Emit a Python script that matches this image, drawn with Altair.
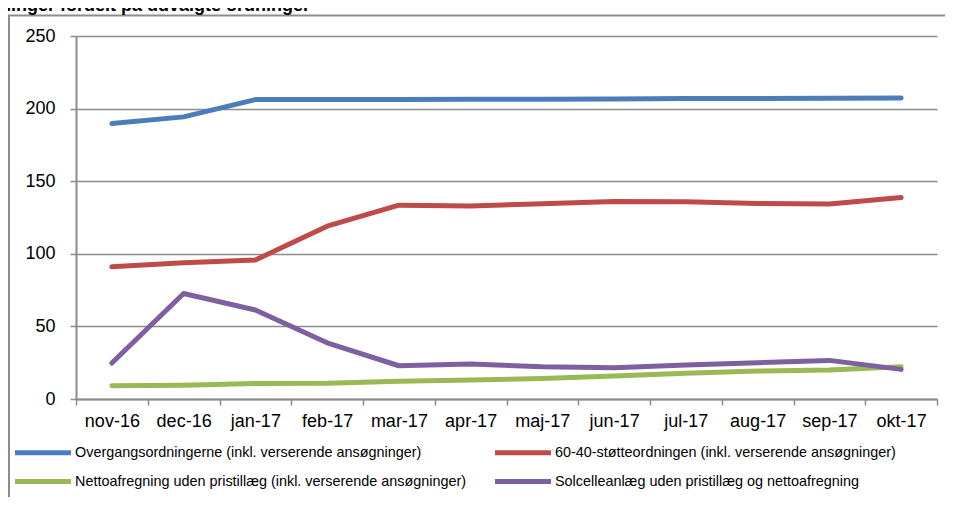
import altair as alt
import pandas as pd

title_text = "ninger fordelt på udvalgte ordninger"
months = ["nov-16", "dec-16", "jan-17", "feb-17", "mar-17", "apr-17",
          "maj-17", "jun-17", "jul-17", "aug-17", "sep-17", "okt-17"]
series = [
    "Overgangsordningerne (inkl. verserende ansøgninger)",
    "60-40-støtteordningen (inkl. verserende ansøgninger)",
    "Nettoafregning uden pristillæg (inkl. verserende ansøgninger)",
    "Solcelleanlæg uden pristillæg og nettoafregning",
]
colors = ["#4A7EBB", "#BE4B48", "#98B954", "#7D60A0"]

overgang = [189.7, 194.3, 206.2, 206.2, 206.3, 206.4, 206.5, 206.6, 206.9, 207.0, 207.2, 207.3]
stoette = [91.0, 93.8, 95.7, 119.0, 133.5, 133.0, 134.5, 136.0, 135.8, 134.7, 134.3, 138.8]
netto = [9.2, 9.4, 10.6, 10.8, 12.3, 13.0, 14.2, 15.8, 17.7, 19.3, 20.0, 22.2]
solcelle = [24.8, 72.7, 61.3, 38.7, 22.9, 24.1, 22.2, 21.5, 23.4, 25.0, 26.6, 20.4]
y_ticks = [0, 50, 100, 150, 200, 250]

rows = []
for name, vals in zip(series, [overgang, stoette, netto, solcelle]):
    for m, v in zip(months, vals):
        rows.append({"month": m, "value": v, "series": name, "order": series.index(name)})
df = pd.DataFrame(rows)

W, H = 861, 363
FONT = "Liberation Sans"
GRAY = "#8c8c8c"

lines = alt.Chart(df).mark_line(strokeWidth=5, strokeCap="round", strokeJoin="round").encode(
    x=alt.X("month:O", sort=months, bandPosition=0.5,
            scale=alt.Scale(type="band", paddingInner=0, paddingOuter=0),
            axis=alt.Axis(title=None, labelAngle=0, tickBand="extent", grid=False,
                          labelFontSize=18, labelPadding=7, tickSize=6)),
    y=alt.Y("value:Q", scale=alt.Scale(domain=[0, 250], nice=False),
            axis=alt.Axis(title=None, values=y_ticks, labelFontSize=18,
                          labelPadding=15, tickSize=6, grid=True)),
    color=alt.Color("series:N", sort=series,
                    scale=alt.Scale(domain=series, range=colors),
                    legend=alt.Legend(title=None, orient="none", legendX=-49.5, legendY=400,
                                      direction="horizontal",
                                      columns=2, columnPadding=18, rowPadding=2,
                                      symbolType="M-2,0H2", symbolSize=784,
                                      symbolStrokeWidth=5, labelFont=FONT,
                                      labelFontSize=14.4, labelColor="black",
                                      labelOffset=15.5, padding=0, labelLimit=0)),
    order=alt.Order("order:Q"),
    detail="series:N",
)

title = alt.Chart(pd.DataFrame({"t": [title_text]})).mark_text(
    align="left", baseline="alphabetic", font=FONT, fontSize=18, fontWeight="bold",
    color="black"
).encode(x=alt.value(-76), y=alt.value(-25), text="t:N")

frame_top = alt.Chart(pd.DataFrame({"a": [0]})).mark_rule(color=GRAY, strokeWidth=2).encode(
    x=alt.value(-68), x2=alt.value(W + 8), y=alt.value(-20.5))
frame_left = alt.Chart(pd.DataFrame({"a": [0]})).mark_rule(color=GRAY, strokeWidth=2).encode(
    x=alt.value(-67), y=alt.value(-20.5), y2=alt.value(H + 100))

chart = alt.layer(frame_top, frame_left, title, lines).properties(
    width=W, height=H,
    autosize=alt.AutoSizeParams(type="none"),
    padding={"left": 68, "top": 28, "right": 8, "bottom": 98},
).configure_axis(
    labelFont=FONT, labelColor="black", domainColor=GRAY, domainWidth=2,
    tickColor=GRAY, tickWidth=1.5, gridColor=GRAY, gridWidth=1.5, gridOpacity=1,
).configure_view(stroke=None)

chart.save("out.html", embed_options={"renderer": "svg", "actions": False})
